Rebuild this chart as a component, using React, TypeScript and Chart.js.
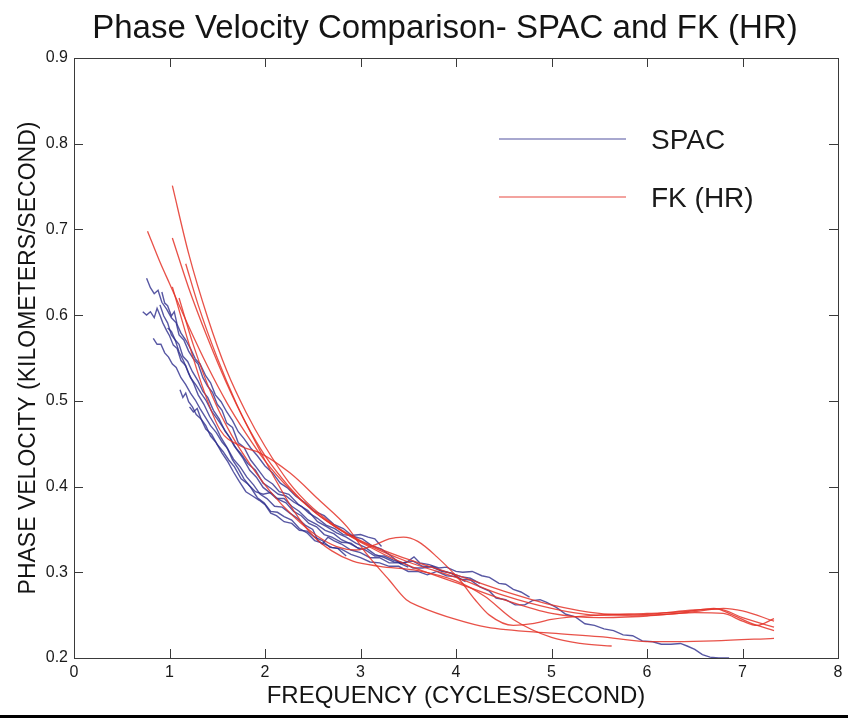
import React, { useEffect, useRef } from 'react';
import { Chart, registerables } from 'chart.js';

Chart.register(...registerables);

const titleText = 'Phase Velocity Comparison- SPAC and FK (HR)';
const xTitle = 'FREQUENCY (CYCLES/SECOND)';
const yTitle = 'PHASE VELOCITY (KILOMETERS/SECOND)';
const legendLabels = ['SPAC', 'FK (HR)'];
const xTickValues = [0, 1, 2, 3, 4, 5, 6, 7, 8];
const yTickValues = [0.2, 0.3, 0.4, 0.5, 0.6, 0.7, 0.8, 0.9];

// SPAC curves: [frequency, phase velocity]
const spac1: [number, number][] = [
  [0.76, 0.643], [0.8, 0.632], [0.84, 0.625], [0.88, 0.629], [0.92, 0.615], [0.97, 0.607], [1.02, 0.597],
  [1.07, 0.591], [1.1, 0.577], [1.15, 0.571], [1.2, 0.558], [1.25, 0.549], [1.3, 0.543], [1.35, 0.527],
  [1.4, 0.517], [1.45, 0.51], [1.5, 0.496], [1.55, 0.489], [1.6, 0.474], [1.66, 0.469], [1.72, 0.451],
  [1.78, 0.446], [1.85, 0.431], [1.92, 0.421], [2.0, 0.409], [2.08, 0.403], [2.15, 0.394], [2.25, 0.391],
  [2.35, 0.379], [2.45, 0.372], [2.55, 0.359], [2.65, 0.353], [2.75, 0.346], [2.85, 0.341], [2.95, 0.334],
  [3.05, 0.329], [3.15, 0.321], [3.25, 0.317], [3.35, 0.312], [3.45, 0.311], [3.55, 0.305], [3.65, 0.305],
  [3.75, 0.307], [3.85, 0.302], [3.95, 0.299], [4.05, 0.292], [4.15, 0.291], [4.25, 0.283], [4.35, 0.278],
  [4.42, 0.27], [4.52, 0.268], [4.62, 0.262], [4.72, 0.262], [4.8, 0.267], [4.88, 0.268], [4.95, 0.265],
  [5.05, 0.259], [5.15, 0.251], [5.25, 0.248], [5.35, 0.24], [5.45, 0.238], [5.55, 0.234], [5.65, 0.232],
  [5.75, 0.227], [5.85, 0.226], [5.95, 0.22], [6.06, 0.219], [6.15, 0.216], [6.25, 0.216], [6.35, 0.217],
  [6.42, 0.214], [6.5, 0.21], [6.58, 0.204], [6.66, 0.201], [6.75, 0.2], [6.86, 0.2],
];
const spac2: [number, number][] = [
  [0.92, 0.627], [0.95, 0.614], [0.98, 0.611], [1.02, 0.599], [1.05, 0.604], [1.08, 0.589], [1.12, 0.579],
  [1.17, 0.571], [1.22, 0.561], [1.27, 0.549], [1.32, 0.543], [1.38, 0.529], [1.43, 0.521], [1.48, 0.507],
  [1.54, 0.499], [1.6, 0.487], [1.66, 0.477], [1.72, 0.464], [1.78, 0.456], [1.85, 0.445], [1.92, 0.436],
  [2.0, 0.424], [2.08, 0.416], [2.16, 0.404], [2.24, 0.398], [2.32, 0.389], [2.42, 0.381], [2.52, 0.371],
  [2.62, 0.366], [2.72, 0.356], [2.82, 0.351], [2.92, 0.342], [3.02, 0.339], [3.12, 0.331], [3.22, 0.327],
  [3.32, 0.319], [3.42, 0.31], [3.5, 0.313], [3.56, 0.318], [3.62, 0.311], [3.72, 0.309], [3.82, 0.305],
  [3.9, 0.306], [4.0, 0.301], [4.07, 0.3], [4.17, 0.301], [4.27, 0.296], [4.35, 0.294], [4.45, 0.287],
  [4.52, 0.286], [4.6, 0.28], [4.68, 0.277], [4.77, 0.271],
];
const spac3: [number, number][] = [
  [0.72, 0.604], [0.76, 0.6], [0.8, 0.604], [0.84, 0.597], [0.87, 0.608], [0.9, 0.6], [0.93, 0.591],
  [0.97, 0.582], [1.0, 0.576], [1.04, 0.565], [1.08, 0.561], [1.12, 0.547], [1.17, 0.541], [1.22, 0.527],
  [1.28, 0.518], [1.33, 0.509], [1.38, 0.501], [1.44, 0.488], [1.5, 0.479], [1.56, 0.469], [1.62, 0.459],
  [1.68, 0.447], [1.75, 0.438], [1.82, 0.427], [1.9, 0.419], [1.98, 0.404], [2.06, 0.398], [2.14, 0.391],
  [2.22, 0.389], [2.3, 0.382], [2.38, 0.377], [2.46, 0.369], [2.55, 0.363], [2.64, 0.355], [2.73, 0.351],
  [2.82, 0.344], [2.9, 0.343], [3.0, 0.344], [3.08, 0.341], [3.15, 0.339], [3.22, 0.33],
];
const spac4: [number, number][] = [
  [0.83, 0.573], [0.87, 0.566], [0.91, 0.566], [0.95, 0.556], [0.99, 0.551], [1.03, 0.543], [1.07, 0.539],
  [1.12, 0.527], [1.17, 0.519], [1.22, 0.509], [1.27, 0.501], [1.32, 0.491], [1.37, 0.482], [1.43, 0.471],
  [1.49, 0.463], [1.55, 0.452], [1.61, 0.444], [1.67, 0.432], [1.74, 0.423], [1.81, 0.411], [1.88, 0.402],
  [1.95, 0.391], [2.02, 0.386], [2.1, 0.377], [2.18, 0.376], [2.26, 0.369], [2.34, 0.363], [2.42, 0.355],
  [2.5, 0.35], [2.55, 0.338], [2.6, 0.333], [2.66, 0.341], [2.72, 0.337], [2.8, 0.333], [2.9, 0.326],
  [3.0, 0.323], [3.1, 0.317], [3.2, 0.317], [3.3, 0.311], [3.4, 0.311], [3.5, 0.306],
];
const spac5: [number, number][] = [
  [1.11, 0.513], [1.14, 0.504], [1.17, 0.509], [1.2, 0.499], [1.24, 0.493], [1.28, 0.484], [1.33, 0.479],
  [1.38, 0.467], [1.44, 0.461], [1.5, 0.449], [1.56, 0.441], [1.62, 0.431], [1.68, 0.423], [1.75, 0.409],
  [1.82, 0.403], [1.9, 0.394], [1.98, 0.391], [2.06, 0.393], [2.14, 0.385], [2.22, 0.381], [2.3, 0.371],
  [2.38, 0.366], [2.46, 0.357], [2.54, 0.353], [2.62, 0.344], [2.7, 0.341], [2.8, 0.335], [2.9, 0.334],
  [3.0, 0.326],
];
const spac6: [number, number][] = [
  [1.21, 0.493], [1.25, 0.487], [1.29, 0.491], [1.33, 0.479], [1.38, 0.471], [1.43, 0.459], [1.49, 0.451],
  [1.55, 0.439], [1.61, 0.429], [1.67, 0.417], [1.73, 0.406], [1.8, 0.394], [1.87, 0.389], [1.94, 0.384],
  [2.0, 0.379], [2.06, 0.369], [2.12, 0.366], [2.2, 0.359], [2.28, 0.357], [2.36, 0.349], [2.44, 0.348],
  [2.52, 0.341], [2.6, 0.337], [2.68, 0.329], [2.76, 0.328], [2.85, 0.319],
];
const spac7: [number, number][] = [
  [0.9, 0.612], [0.94, 0.599], [0.98, 0.591], [1.02, 0.577], [1.06, 0.571], [1.1, 0.557], [1.15, 0.546],
  [1.2, 0.532], [1.25, 0.521], [1.3, 0.507], [1.36, 0.496], [1.42, 0.482], [1.48, 0.471], [1.54, 0.457],
  [1.6, 0.446], [1.66, 0.431], [1.72, 0.421], [1.78, 0.409], [1.85, 0.399], [1.92, 0.387], [1.99, 0.381],
  [2.06, 0.371], [2.13, 0.37], [2.2, 0.365], [2.28, 0.361], [2.36, 0.351], [2.44, 0.346], [2.52, 0.337],
  [2.6, 0.334], [2.7, 0.329], [2.8, 0.327], [2.9, 0.321], [3.0, 0.317], [3.1, 0.312], [3.2, 0.311],
  [3.3, 0.307], [3.4, 0.307], [3.5, 0.301], [3.6, 0.301], [3.7, 0.297], [3.8, 0.301], [3.9, 0.296],
  [4.0, 0.295], [4.1, 0.289],
];
const spac8: [number, number][] = [
  [0.98, 0.585], [1.02, 0.581], [1.06, 0.571], [1.1, 0.566], [1.14, 0.552], [1.19, 0.546], [1.24, 0.534],
  [1.3, 0.523], [1.35, 0.511], [1.4, 0.504], [1.46, 0.489], [1.52, 0.479], [1.58, 0.465], [1.64, 0.456],
  [1.7, 0.444], [1.77, 0.433], [1.84, 0.419], [1.91, 0.411], [1.98, 0.399], [2.05, 0.393], [2.12, 0.386],
  [2.2, 0.386], [2.28, 0.377], [2.36, 0.371], [2.45, 0.361], [2.54, 0.356], [2.63, 0.349], [2.72, 0.345],
  [2.8, 0.338], [2.88, 0.334], [2.96, 0.329], [3.05, 0.326], [3.15, 0.319], [3.25, 0.319], [3.35, 0.314],
  [3.45, 0.311], [3.55, 0.313], [3.65, 0.307], [3.75, 0.306], [3.85, 0.301], [3.95, 0.299], [4.05, 0.295],
  [4.15, 0.293], [4.25, 0.287],
];

// FK (HR) curves: [frequency, phase velocity]
const fk1: [number, number][] = [
  [1.03, 0.751], [1.2, 0.672], [1.4, 0.597], [1.6, 0.535], [1.8, 0.487], [2.0, 0.447], [2.25, 0.405],
  [2.5, 0.375], [2.75, 0.353], [3.0, 0.337], [3.5, 0.315], [4.0, 0.297], [4.5, 0.278], [5.0, 0.262],
  [5.5, 0.252], [6.0, 0.25], [6.5, 0.254], [6.8, 0.258], [7.0, 0.255], [7.33, 0.243],
];
const fk2: [number, number][] = [
  [0.77, 0.698], [0.9, 0.662], [1.0, 0.637], [1.2, 0.587], [1.4, 0.54], [1.6, 0.498], [1.8, 0.462],
  [2.0, 0.43], [2.25, 0.398], [2.5, 0.372], [2.75, 0.352], [3.0, 0.336], [3.5, 0.312], [4.0, 0.294],
  [4.5, 0.273], [5.0, 0.258], [5.5, 0.25], [6.0, 0.251], [6.5, 0.256], [6.75, 0.257], [7.0, 0.247],
  [7.33, 0.236],
];
const fk3: [number, number][] = [
  [1.03, 0.69], [1.2, 0.632], [1.4, 0.573], [1.6, 0.52], [1.8, 0.474], [2.0, 0.436], [2.25, 0.4],
  [2.5, 0.372], [2.75, 0.352], [3.0, 0.335], [3.5, 0.308], [4.0, 0.288], [4.5, 0.268], [5.0, 0.252],
  [5.5, 0.247], [6.0, 0.249], [6.5, 0.253], [6.8, 0.252], [7.0, 0.243], [7.15, 0.238], [7.33, 0.246],
];
const fk4: [number, number][] = [
  [1.17, 0.66], [1.3, 0.612], [1.5, 0.55], [1.7, 0.497], [1.9, 0.452], [2.1, 0.41], [2.3, 0.372],
  [2.5, 0.343], [2.7, 0.325], [2.92, 0.313], [3.2, 0.307], [3.6, 0.302], [4.0, 0.29], [4.3, 0.272],
  [4.6, 0.245], [5.0, 0.224], [5.3, 0.217], [5.63, 0.214],
];
const fk5: [number, number][] = [
  [1.03, 0.633], [1.2, 0.568], [1.35, 0.515], [1.53, 0.466], [1.75, 0.447], [1.95, 0.439], [2.26, 0.416],
  [2.57, 0.384], [2.86, 0.353], [3.06, 0.322], [3.3, 0.291], [3.48, 0.268], [3.62, 0.26], [4.0, 0.245],
  [4.32, 0.236], [5.0, 0.229], [5.5, 0.225], [6.06, 0.219], [6.7, 0.22], [7.33, 0.223],
];
const fk6: [number, number][] = [
  [1.1, 0.62], [1.25, 0.565], [1.45, 0.505], [1.65, 0.46], [1.85, 0.425], [2.05, 0.395], [2.3, 0.365],
  [2.55, 0.342], [2.75, 0.33], [2.95, 0.326], [3.15, 0.332], [3.3, 0.339], [3.45, 0.341], [3.6, 0.336],
  [3.8, 0.318], [4.04, 0.291], [4.2, 0.268], [4.35, 0.25], [4.6, 0.238], [4.8, 0.24], [5.0, 0.245],
  [5.5, 0.25], [6.0, 0.252], [6.4, 0.254], [6.7, 0.258], [6.9, 0.25], [7.1, 0.24], [7.33, 0.232],
];

const spacSeries = [spac1, spac2, spac3, spac4, spac5, spac6, spac7, spac8];
const fkSeries = [fk1, fk2, fk3, fk4, fk5, fk6];

const BLUE = 'rgba(45, 45, 140, 0.8)';
const RED = 'rgba(228, 50, 40, 0.85)';
const FONT = "'Liberation Sans', Arial, sans-serif";

const framePlugin = {
  id: 'framePlugin',
  afterDraw(chart: any) {
    const { ctx, chartArea } = chart;
    const { left, right, top, bottom } = chartArea;
    const xs = chart.scales.x;
    const ys = chart.scales.y;
    ctx.save();
    ctx.strokeStyle = '#3a3a3a';
    ctx.lineWidth = 1;
    ctx.strokeRect(Math.round(left) + 0.5, Math.round(top) + 0.5, Math.round(right - left), Math.round(bottom - top));
    const tl = 9;
    ctx.beginPath();
    xTickValues.forEach((v) => {
      const px = Math.round(xs.getPixelForValue(v)) + 0.5;
      ctx.moveTo(px, bottom);
      ctx.lineTo(px, bottom - tl);
      ctx.moveTo(px, top);
      ctx.lineTo(px, top + tl);
    });
    yTickValues.forEach((v) => {
      const py = Math.round(ys.getPixelForValue(v)) + 0.5;
      ctx.moveTo(left, py);
      ctx.lineTo(left + tl, py);
      ctx.moveTo(right, py);
      ctx.lineTo(right - tl, py);
    });
    ctx.stroke();

    // title
    ctx.font = `33px ${FONT}`;
    ctx.fillStyle = '#141414';
    ctx.textAlign = 'center';
    ctx.textBaseline = 'middle';
    ctx.fillText(titleText, 445, 29);

    // legend
    const lx0 = 499;
    const lx1 = 626;
    const rows = [
      { y: 139, color: 'rgba(45, 45, 140, 0.55)', label: legendLabels[0] },
      { y: 197, color: 'rgba(228, 50, 40, 0.6)', label: legendLabels[1] },
    ];
    ctx.font = `28px ${FONT}`;
    ctx.textBaseline = 'middle';
    ctx.textAlign = 'left';
    rows.forEach((r) => {
      ctx.strokeStyle = r.color;
      ctx.lineWidth = 1.5;
      ctx.beginPath();
      ctx.moveTo(lx0, r.y);
      ctx.lineTo(lx1, r.y);
      ctx.stroke();
      ctx.fillStyle = '#1a1a1a';
      ctx.fillText(r.label, 651, r.y + 2);
    });

    // bottom frame bar
    ctx.fillStyle = '#000';
    ctx.fillRect(0, 715, chart.width, 3);
    ctx.restore();
  },
};

export default function App() {
  const canvasRef = useRef<HTMLCanvasElement | null>(null);

  useEffect(() => {
    document.body.style.margin = '0';
    const canvas = canvasRef.current;
    if (!canvas) return;
    const datasets: any[] = [];
    fkSeries.forEach((s, i) => {
      datasets.push({
        label: `FK (HR) ${i + 1}`,
        data: s.map(([x, y]) => ({ x, y })),
        borderColor: RED,
        borderWidth: 1.3,
        pointRadius: 0,
        fill: false,
        cubicInterpolationMode: 'monotone',
        order: 0,
      });
    });
    spacSeries.forEach((s, i) => {
      datasets.push({
        label: `SPAC ${i + 1}`,
        data: s.map(([x, y]) => ({ x, y })),
        borderColor: BLUE,
        borderWidth: 1.4,
        pointRadius: 0,
        fill: false,
        tension: 0,
        order: 1,
      });
    });

    const chart = new Chart(canvas, {
      type: 'line',
      data: { datasets },
      plugins: [framePlugin],
      options: {
        animation: false,
        responsive: true,
        maintainAspectRatio: false,
        events: [],
        layout: { padding: { left: 0, right: 10, top: 58, bottom: 0 } },
        plugins: {
          legend: { display: false },
          tooltip: { enabled: false },
          title: { display: false },
        },
        scales: {
          x: {
            type: 'linear',
            min: 0,
            max: 8,
            afterFit: (s: any) => { s.height = 63; },
            afterBuildTicks: (s: any) => { s.ticks = xTickValues.map((v) => ({ value: v })); },
            ticks: {
              color: '#1a1a1a',
              font: { size: 16, family: FONT },
              padding: 5,
              maxRotation: 0,
              callback: (v: any) => String(v),
            },
            grid: { display: false, drawTicks: false },
            border: { display: false },
            title: {
              display: true,
              text: xTitle,
              color: '#141414',
              font: { size: 24, family: FONT },
              padding: { top: 0, bottom: 10 },
            },
          },
          y: {
            type: 'linear',
            min: 0.2,
            max: 0.9,
            afterFit: (s: any) => { s.width = 74; },
            afterBuildTicks: (s: any) => { s.ticks = yTickValues.map((v) => ({ value: v })); },
            ticks: {
              color: '#1a1a1a',
              font: { size: 16, family: FONT },
              padding: 6,
              callback: (v: any) => Number(v).toFixed(1),
            },
            grid: { display: false, drawTicks: false },
            border: { display: false },
            title: {
              display: true,
              text: yTitle,
              color: '#141414',
              font: { size: 23, family: FONT },
              padding: { top: 15, bottom: 0 },
            },
          },
        },
      },
    });
    return () => chart.destroy();
  }, []);

  return (
    <div style={{ position: 'fixed', left: 0, top: 0, width: 848, height: 721, background: '#fff' }}>
      <canvas ref={canvasRef} />
    </div>
  );
}
